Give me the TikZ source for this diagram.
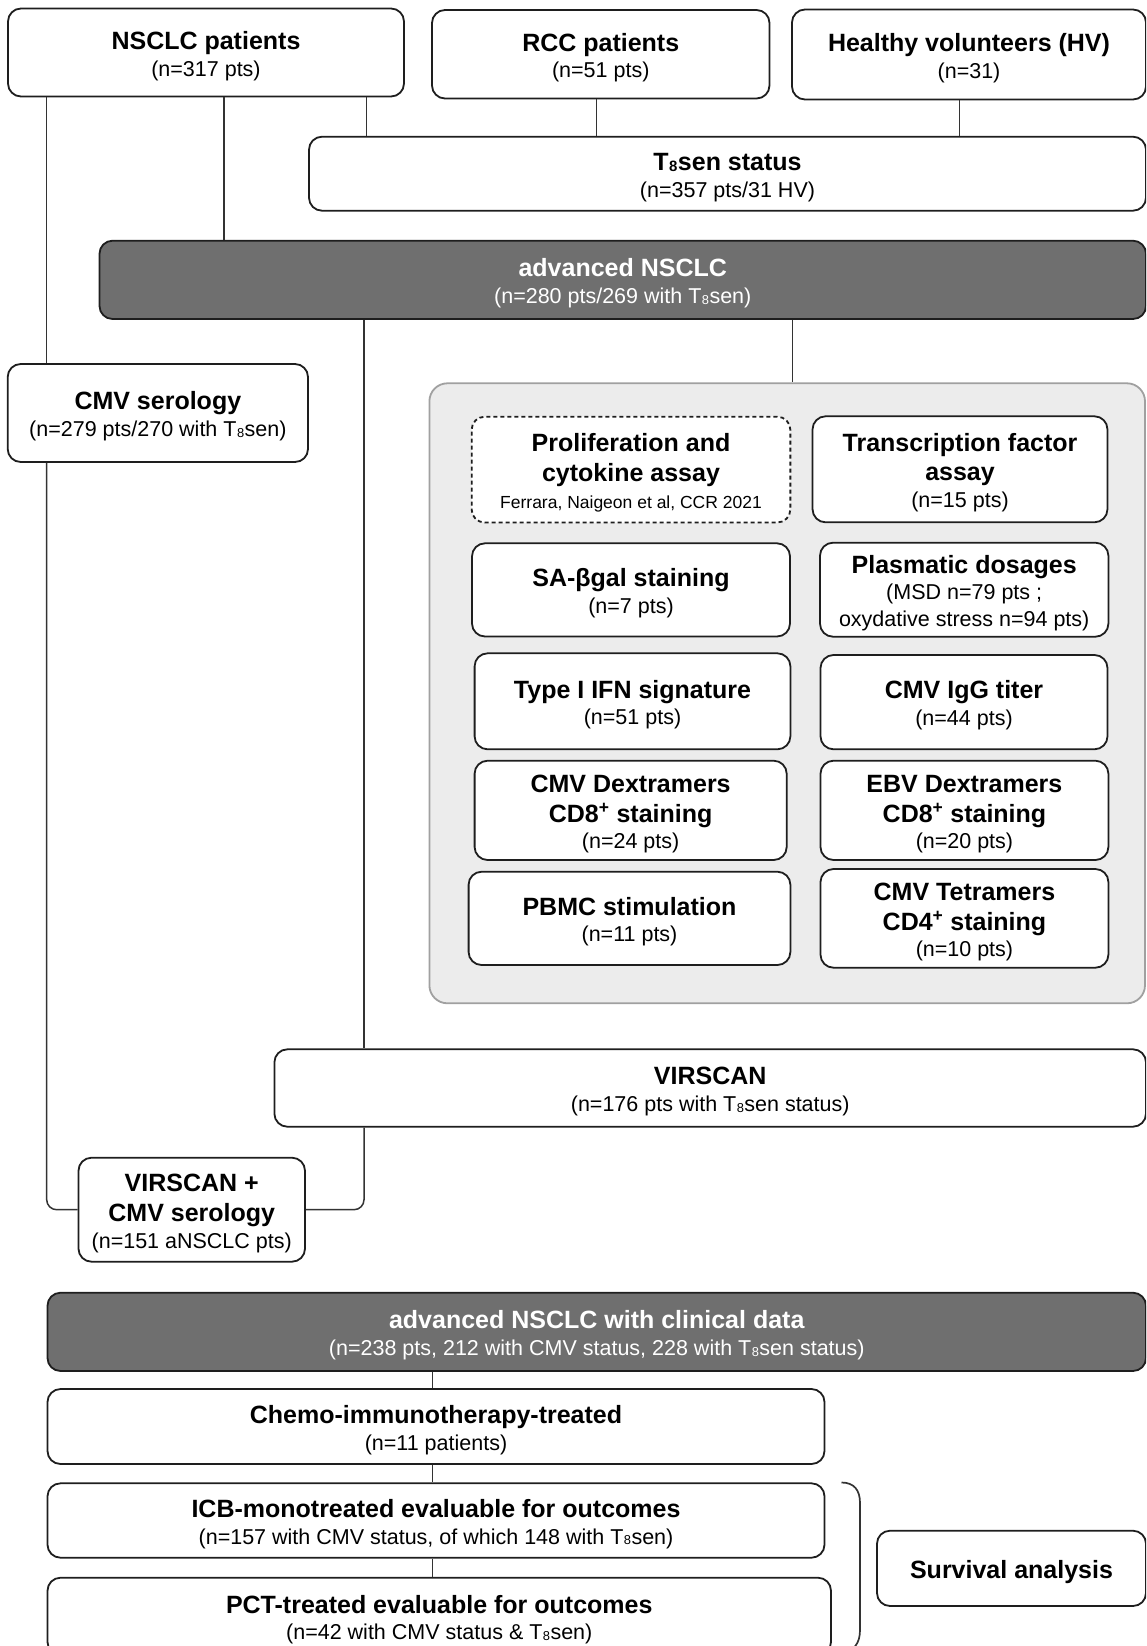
\documentclass[tikz,border=0pt]{standalone}
\usepackage{fontspec}
\usepackage{graphicx}
\setmainfont{Liberation Sans}
\definecolor{dk}{HTML}{6F6F6F}
\definecolor{pan}{HTML}{ECECEC}
\definecolor{panb}{HTML}{A0A0A0}
\definecolor{ln}{HTML}{1E1E1E}
\definecolor{cn}{HTML}{333333}
\newcommand{\subf}{\fontsize{21.5}{26.7}\selectfont}
\newcommand{\ttl}[1]{\rule{0pt}{24.8pt}{\fontsize{25}{26.7}\selectfont\bfseries #1}}
\newcommand{\ttlb}[1]{{\fontsize{25}{26.7}\selectfont\bfseries #1}}
\newcommand{\smtxt}[1]{{\fontsize{17.5}{24}\selectfont #1}}
\newcommand{\Tsen}{T\kern0.02em\raisebox{-0.03em}{\scalebox{0.6}{8}}\kern0.02em sen}
\tikzset{
  box/.style={draw=ln, line width=1.8pt, rounded corners=13pt, fill=white,
    align=center, inner sep=0pt, font=\subf, text=black},
  darkbox/.style={box, fill=dk, text=white},
  dashbox/.style={box, dash pattern=on 4pt off 3pt},
  panelbox/.style={draw=panb, line width=1.8pt, rounded corners=18pt, fill=pan, inner sep=0pt},
  conn/.style={draw=cn, line width=1.5pt},
}
\begin{document}
\begin{tikzpicture}[x=1pt,y=-1pt]
\useasboundingbox (0,0) rectangle (1146,1646);
\clip (0,0) rectangle (1146,1646);

% grey panel
\node[panelbox, minimum width=715.6pt, minimum height=620pt] (panel) at (787.2,693.3) {};

% top row
\node[box, minimum width=396pt, minimum height=88pt] (nsclc) at (206,52.5)
  {\ttl{NSCLC patients}\\(n=317 pts)};
\node[box, minimum width=337.5pt, minimum height=88.5pt] (rcc) at (600.75,54.25)
  {\ttl{RCC patients}\\(n=51 pts)};
\node[box, minimum width=354pt, minimum height=90pt] (hv) at (969,54.5)
  {\ttl{Healthy volunteers (HV)}\\(n=31)};

\node[box, minimum width=837pt, minimum height=74pt] (tsen) at (727.5,173.7)
  {\ttl{\Tsen{} status}\\(n=357 pts/31 HV)};

\node[darkbox, minimum width=1046.5pt, minimum height=78.3pt] (adv) at (622.75,279.85)
  {\ttl{advanced NSCLC}\\(n=280 pts/269 with \Tsen)};

\node[box, minimum width=300.3pt, minimum height=98pt] (cmv) at (157.85,413)
  {\ttl{CMV serology}\\(n=279 pts/270 with \Tsen)};

% panel content
\node[dashbox, minimum width=318.7pt, minimum height=105.8pt] (prolif) at (631,469.6)
  {\ttl{Proliferation and}\\[3.3pt]\ttlb{cytokine assay}\\\smtxt{Ferrara, Naigeon et al, CCR 2021}};
\node[box, minimum width=294.9pt, minimum height=106pt] (trans) at (960,469.3)
  {\ttl{Transcription factor}\\[2pt]\ttlb{assay}\\(n=15 pts)};
\node[box, minimum width=318pt, minimum height=93.2pt] (sa) at (631,589.9)
  {\ttl{SA-βgal staining}\\(n=7 pts)};
\node[box, minimum width=288.4pt, minimum height=94pt] (plas) at (964.2,589.7)
  {\ttl{Plasmatic dosages}\\(MSD n=79 pts ;\\oxydative stress n=94 pts)};
\node[box, minimum width=315.8pt, minimum height=96pt] (ifn) at (632.5,701.3)
  {\ttl{Type I IFN signature}\\(n=51 pts)};
\node[box, minimum width=287pt, minimum height=94.3pt] (igg) at (964,702.15)
  {\ttl{CMV IgG titer}\\(n=44 pts)};
\node[box, minimum width=312.1pt, minimum height=99.3pt] (cmvdex) at (630.65,810.35)
  {\ttl{CMV Dextramers}\\[3.3pt]\ttlb{CD8\textsuperscript{+} staining}\\(n=24 pts)};
\node[box, minimum width=287.9pt, minimum height=99.3pt] (ebvdex) at (964.45,810.35)
  {\ttl{EBV Dextramers}\\[3.3pt]\ttlb{CD8\textsuperscript{+} staining}\\(n=20 pts)};
\node[box, minimum width=321.8pt, minimum height=93.3pt] (pbmc) at (629.5,918.35)
  {\ttl{PBMC stimulation}\\(n=11 pts)};
\node[box, minimum width=287.9pt, minimum height=98.7pt] (cmvtet) at (964.45,918.35)
  {\ttl{CMV Tetramers}\\[3.3pt]\ttlb{CD4\textsuperscript{+} staining}\\(n=10 pts)};

% virscan
\node[box, minimum width=871.6pt, minimum height=77.4pt] (virscan) at (710.2,1088)
  {\ttl{VIRSCAN}\\(n=176 pts with \Tsen{} status)};
\node[box, minimum width=226.5pt, minimum height=104pt] (vc) at (191.75,1209.7)
  {\ttl{VIRSCAN +}\\[3.3pt]\ttlb{CMV serology}\\(n=151 aNSCLC pts)};

% clinical
\node[darkbox, minimum width=1098.5pt, minimum height=78.3pt] (clin) at (596.75,1331.85)
  {\ttl{advanced NSCLC with clinical data}\\(n=238 pts, 212 with CMV status, 228 with \Tsen{} status)};
\node[box, minimum width=777pt, minimum height=75pt] (chemo) at (436,1426.5)
  {\ttl{Chemo-immunotherapy-treated}\\(n=11 patients)};
\node[box, minimum width=777pt, minimum height=74.4pt] (icb) at (436,1520.5)
  {\ttl{ICB-monotreated evaluable for outcomes}\\(n=157 with CMV status, of which 148 with \Tsen)};
\node[box, minimum width=783.5pt, minimum height=77.3pt] (pct) at (439.25,1616.35)
  {\ttl{PCT-treated evaluable for outcomes}\\(n=42 with CMV status \& \Tsen)};
\node[box, minimum width=269pt, minimum height=75.3pt] (surv) at (1011.5,1568.35)
  {\ttl{Survival analysis}};

% connector x positions
\coordinate (xL) at (46.7,0);
\coordinate (xN2) at (224,0);
\coordinate (xN3) at (366.3,0);
\coordinate (xR) at (596.4,0);
\coordinate (xH) at (959.7,0);
\coordinate (xA) at (364,0);
\coordinate (xP) at (792.3,0);
\coordinate (xC) at (432.7,0);

\draw[conn] (nsclc.south -| xL) -- (cmv.north -| xL);
\draw[conn, rounded corners=10pt] (cmv.south -| xL) |- (vc.west);
\draw[conn] (nsclc.south -| xN2) -- (adv.north -| xN2);
\draw[conn] (nsclc.south -| xN3) -- (tsen.north -| xN3);
\draw[conn] (rcc.south -| xR) -- (tsen.north -| xR);
\draw[conn] (hv.south -| xH) -- (tsen.north -| xH);
\draw[conn] (adv.south -| xA) -- (virscan.north -| xA);
\draw[conn, rounded corners=10pt] (virscan.south -| xA) |- (vc.east);
\draw[conn] (adv.south -| xP) -- (panel.north -| xP);
\draw[conn] (clin.south -| xC) -- (chemo.north -| xC);
\draw[conn] (chemo.south -| xC) -- (icb.north -| xC);
\draw[conn] (icb.south -| xC) -- (pct.north -| xC);

% bracket
\coordinate (brtop) at (841.5,1482.5);
\coordinate (brbot) at (841.5,1652);
\draw[conn, line width=1.7pt] (brtop) .. controls (854,1482.5) and (860,1490) .. (860,1503)
  -- (860,1630) .. controls (860,1643) and (854,1652) .. (brbot);
\end{tikzpicture}
\end{document}
